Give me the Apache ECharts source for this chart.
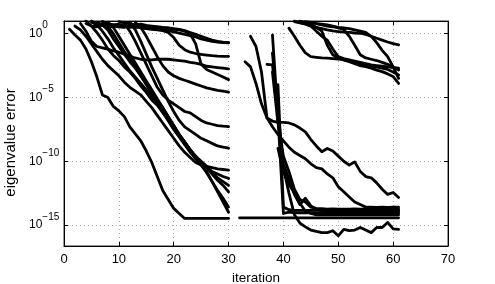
<!DOCTYPE html>
<html>
<head>
<meta charset="utf-8">
<script src="https://cdn.jsdelivr.net/npm/echarts@6/dist/echarts.min.js"></script>
<style>html,body{margin:0;padding:0;background:#fff}#c{width:495px;height:284px}</style>
</head>
<body>
<div id="c"></div>
<script>
// x: iteration; y: log10(eigenvalue error). Each run = first iteration + values per iteration.
const xTicks = [0, 10, 20, 30, 40, 50, 60, 70];
const yTickExponents = [-15, -10, -5, 0];

// ---- first block (iterations 1..30) ----
const runL1 = [1, [0.35, -0.1, -0.5, -1.2, -2.2, -3.4, -4.8, -5.0, -5.7, -6.05, -6.5, -7.3, -7.85, -8.4, -9.2, -10.1, -11.2, -12.3, -13.0, -13.7, -14.1, -14.49, -14.49, -14.49, -14.49, -14.49, -14.49, -14.49, -14.49, -14.49]];
const runL2 = [2, [0.6, 0.3, -0.2, -0.8, -1.4, -2.0, -2.5, -2.9, -3.3, -3.8, -4.2, -4.5, -4.8, -5.3, -5.8, -6.4, -7.0, -7.6, -8.2, -8.8, -9.3, -9.7, -10.1, -10.3, -10.4, -10.5, -10.6, -10.65, -10.7]];
const runL3 = [4, [1.0, 0.6, 0.1, -0.5, -1.2, -1.7, -2.1, -2.6, -3.0, -3.5, -4.1, -4.6, -5.2, -5.6, -6.2, -6.8, -7.5, -8.0, -8.6, -9.2, -9.8, -10.2, -10.5, -11.0, -11.5, -11.9, -12.4]];
const runL4 = [6, [0.9, 0.7, 0.3, -0.4, -1.0, -1.6, -2.2, -2.7, -3.3, -3.9, -4.5, -5.2, -5.8, -6.5, -7.2, -7.9, -8.5, -9.1, -9.7, -10.3, -10.8, -11.6, -12.3, -12.9, -13.6]];
const runL5 = [8, [0.9, 0.5, -0.2, -0.9, -1.6, -2.3, -3.0, -3.7, -4.4, -5.1, -5.8, -6.5, -7.2, -7.9, -8.5, -9.1, -9.7, -10.3, -10.9, -11.6, -12.4, -13.2, -14.0]];
const runL6 = [11, [0.8, 0.2, -0.6, -1.5, -2.4, -3.3, -4.2, -4.8, -5.2, -5.5, -5.8, -6.1, -6.2, -6.5, -6.8, -7.0, -7.1, -7.2, -7.25, -7.28]];
const runL7 = [12, [0.9, 0.3, -0.6, -1.6, -2.6, -3.5, -4.4, -5.3, -6.1, -6.8, -7.3, -7.6, -7.9, -8.2, -8.4, -8.6, -8.8, -8.9, -8.98]];
const runL8 = [7, [0.95, 0.6, 0.0, -0.7, -1.4, -2.0, -2.6, -3.3, -4.0, -4.7, -5.4, -6.1, -6.8, -7.5, -8.1, -8.7, -9.3, -9.8, -10.2, -10.5, -10.8, -11.0, -11.2, -11.35]];
const runL9 = [5, [1.0, 0.7, 0.2, -0.4, -1.1, -1.7, -2.3, -2.9, -3.4, -3.9, -4.4, -4.9, -5.5, -6.1, -6.7, -7.3, -7.9, -8.5, -9.1, -9.6, -10.0, -10.4, -10.9, -11.3, -11.6, -11.9]];
const runT1 = [4, [0.8, 0.6, 0.55, 0.65, 0.5, 0.6, 0.55, 0.5, 0.6, 0.5, 0.55, 0.45, 0.4, 0.35, 0.3, 0.25, 0.15, 0.05, -0.05, -0.15, -0.25, -0.4, -0.5, -0.6, -0.65, -0.7, -0.72]];
const runT2 = [5, [0.9, 0.7, 0.75, 0.6, 0.7, 0.55, 0.6, 0.5, 0.55, 0.45, 0.4, 0.35, 0.3, 0.25, 0.1, -0.3, -0.9, -1.25, -1.45, -1.55, -1.62, -1.67, -1.72, -1.75, -1.77, -1.77]];
const runT3 = [3, [0.8, 0.2, -0.6, -1.0, -1.1, -1.2, -1.35, -1.45, -1.6, -1.75, -1.9, -2.0, -2.05, -2.05, -2.0, -2.0, -2.0, -2.05, -2.1, -2.15, -2.25, -2.3, -2.4, -2.55, -2.6, -2.65, -2.7, -2.75]];
const runT4 = [7, [0.95, 0.8, 0.7, 0.75, 0.6, 0.65, 0.55, 0.6, 0.5, 0.45, 0.5, 0.4, 0.45, 0.35, 0.3, 0.2, 0.0, -0.8, -2.4, -2.8, -3.0, -3.2, -3.4, -3.6]];
const runT5 = [13, [0.9, 0.5, -0.2, -1.0, -1.8, -2.5, -3.0, -3.3, -3.5, -3.65, -3.8, -3.95, -4.1, -4.25, -4.35, -4.45, -4.5, -4.58]];
const runT6 = [10, [0.95, 0.85, 0.8, 0.7, 0.75, 0.65, 0.6, 0.55, 0.5, 0.45, 0.4, 0.35, 0.25, 0.1, -0.05, -0.2, -0.35, -0.5, -0.6, -0.65, -0.68]];

// ---- second block (iterations 32..61) ----
const runRflat = [32, [-14.44, -14.44, -14.44, -14.44, -14.44, -14.44, -14.44, -14.44, -14.44, -14.44, -14.44, -14.44, -14.44, -14.44, -14.44, -14.44, -14.44, -14.44, -14.44, -14.44, -14.44, -14.44, -14.44, -14.44, -14.44, -14.44, -14.44, -14.44, -14.44, -14.44]];
const runR1 = [33, [-2.2, -2.6, -3.9, -5.5, -6.6, -6.85, -6.95, -6.95, -7.0, -7.15, -7.4, -7.7, -8.3, -8.8, -9.25, -9.0, -9.2, -9.6, -10.0, -10.3, -10.05, -10.8, -11.2, -11.3, -11.7, -12.2, -12.6, -12.45, -12.84]];
const runR2 = [34, [-0.2, -1.0, -3.0, -6.6, -7.3, -7.9, -8.4, -8.9, -9.3, -9.55, -9.8, -10.2, -10.5, -10.6, -11.0, -11.3, -12.0, -12.4, -12.8, -13.2, -13.4, -13.6, -13.6, -13.62, -13.6, -13.62, -13.6, -13.6]];
const runR3 = [37, [-2.4, -2.45, -6.0, -10.5, -12.5, -14.2, -14.85, -15.15, -15.4, -15.5, -15.6, -15.6, -15.45, -15.85, -15.35, -15.45, -15.4, -15.2, -15.4, -15.6, -15.2, -15.2, -14.8, -15.3, -15.35]];
const runR4 = [38, [-0.1, -6.5, -14.1, -14.0, -14.05, -14.05, -14.05, -14.05, -14.05, -14.05, -14.05, -14.05, -14.05, -14.05, -14.05, -14.05, -14.05, -14.05, -14.05, -14.05, -14.05, -14.05, -14.05, -14.05]];
const runRC1 = [38, [-3.0, -7.0, -9.6, -10.8, -12.2, -13.0, -13.2, -13.6, -13.7, -13.72, -13.75, -13.73, -13.75, -13.76, -13.75, -13.74, -13.75, -13.76, -13.75, -13.74, -13.75, -13.76, -13.75, -13.75]];
const runRC2 = [38, [-1.5, -6.5, -10.2, -11.4, -12.6, -13.4, -12.9, -13.5, -13.8, -13.85, -13.9, -13.88, -13.9, -13.9, -13.92, -13.9, -13.9, -13.9, -13.92, -13.9, -13.9, -13.9, -13.92, -13.9]];
const runRC3 = [39, [-4.0, -13.6, -13.8, -13.85, -13.85, -13.85, -13.85, -13.85, -13.85, -13.85, -13.85, -13.85, -13.85, -13.85, -13.85, -13.85, -13.85, -13.85, -13.85, -13.85, -13.85, -13.85, -13.85]];
const runRC4 = [39, [-9.0, -10.8, -11.8, -12.5, -13.3, -13.9, -14.1, -14.2, -14.2, -14.2, -14.2, -14.2, -14.2, -14.2, -14.2, -14.2, -14.2, -14.2, -14.2, -14.2, -14.2, -14.2, -14.2]];
const runS1 = [41, [0.44, -0.2, -0.9, -1.5, -1.8, -1.85, -1.9, -1.92, -1.95, -1.98, -2.05, -2.15, -2.25, -2.35, -2.45, -2.55, -2.62, -2.7, -2.8, -3.0, -3.24]];
const runS2 = [42, [1.0, 0.9, 0.8, 0.6, 0.2, -0.2, -0.5, -1.2, -1.8, -1.95, -2.05, -2.15, -2.25, -2.35, -2.45, -2.5, -2.55, -2.6, -2.65, -2.7]];
const runS3 = [42, [0.95, 0.85, 0.75, 0.6, 0.5, 0.4, 0.3, 0.22, 0.17, 0.12, 0.1, 0.06, 0.04, -0.05, -0.2, -0.35, -0.5, -0.65, -0.78, -0.88]];
const runS4 = [43, [1.0, 0.9, 0.85, 0.8, 0.7, 0.6, 0.55, 0.45, 0.35, -0.2, -0.9, -1.65, -1.9, -2.0, -2.1, -2.25, -2.4, -2.6, -2.85]];
const runS5 = [44, [0.95, 0.9, 0.8, 0.75, 0.7, 0.6, 0.5, 0.45, 0.4, 0.3, 0.2, 0.1, -0.2, -0.7, -1.3, -1.8, -2.6, -3.5]];
const runS6 = [43, [0.9, 0.8, 0.7, 0.5, 0.2, -0.9, -1.65, -1.9, -2.05, -2.2, -2.35, -2.5, -2.58, -2.7, -2.85, -2.97, -3.15, -3.36, -3.9]];

const runs = [runL1, runL2, runL3, runL4, runL5, runL6, runL7, runL8, runL9,
  runT1, runT2, runT3, runT4, runT5, runT6,
  runRflat, runR1, runR2, runR3, runR4, runRC1, runRC2, runRC3, runRC4,
  runS1, runS2, runS3, runS4, runS5, runS6];

const FONT = 'Liberation Sans';
const gridLine = { show: true, lineStyle: { color: '#a8a8a8', width: 1, type: [1, 3] } };
const axisLineBlack = { show: true, onZero: false, lineStyle: { color: '#000', width: 1 } };

const chart = echarts.init(document.getElementById('c'), null, { renderer: 'canvas' });
chart.setOption({
  animation: false,
  backgroundColor: '#fff',
  grid: { left: 64, right: 47, top: 21, bottom: 38, containLabel: false, outerBoundsMode: 'none',
          show: true, borderColor: '#333', borderWidth: 1, backgroundColor: 'transparent' },
  xAxis: [{
    type: 'value', min: xTicks[0], max: xTicks[xTicks.length - 1], interval: 10, position: 'bottom',
    axisLine: axisLineBlack,
    axisTick: { show: true, inside: true, length: 4, lineStyle: { color: '#000' } },
    axisLabel: { color: '#000', fontSize: 13, fontFamily: FONT, margin: 7, showMinLabel: true, showMaxLabel: true },
    splitLine: gridLine,
    name: 'iteration', nameLocation: 'middle', nameGap: 18,
    nameTextStyle: { color: '#000', fontSize: 13.5, fontFamily: FONT }
  }, {
    type: 'value', min: xTicks[0], max: xTicks[xTicks.length - 1], interval: 10, position: 'top',
    axisLine: axisLineBlack,
    axisTick: { show: true, inside: true, length: 4, lineStyle: { color: '#000' } },
    axisLabel: { show: false }, splitLine: { show: false }
  }],
  yAxis: [{
    type: 'value', min: -16.65, max: 1, position: 'left',
    axisLine: axisLineBlack,
    axisTick: { show: true, inside: true, length: 4, customValues: yTickExponents, lineStyle: { color: '#000' } },
    axisLabel: {
      customValues: yTickExponents, align: 'left', margin: 35, color: '#000',
      formatter: v => '{b|10}{s|' + (v === 0 ? '0' : '\u2212' + Math.abs(v)) + '}',
      rich: {
        b: { fontSize: 12, fontFamily: FONT, color: '#000', lineHeight: 26 },
        s: { fontSize: 10, fontFamily: FONT, color: '#000', lineHeight: 14, verticalAlign: 'top' }
      }
    },
    splitLine: gridLine,
    name: 'eigenvalue error', nameLocation: 'middle', nameGap: 38, nameRotate: 90,
    nameTextStyle: { color: '#000', fontSize: 15, fontFamily: FONT, padding: [0, 18, 0, 0] }
  }, {
    type: 'value', min: -16.65, max: 1, position: 'right',
    axisLine: axisLineBlack,
    axisTick: { show: true, inside: true, length: 4, customValues: yTickExponents, lineStyle: { color: '#000' } },
    axisLabel: { show: false }, splitLine: { show: false }
  }],
  series: runs.map(r => ({
    type: 'line', xAxisIndex: 0, yAxisIndex: 0,
    data: r[1].map((v, i) => [r[0] + i, v]),
    showSymbol: false, symbol: 'none',
    lineStyle: { color: '#000', width: 2.8, join: 'round', cap: 'round' },
    itemStyle: { color: '#000' },
    emphasis: { disabled: true }, silent: true
  }))
});
</script>
</body>
</html>
